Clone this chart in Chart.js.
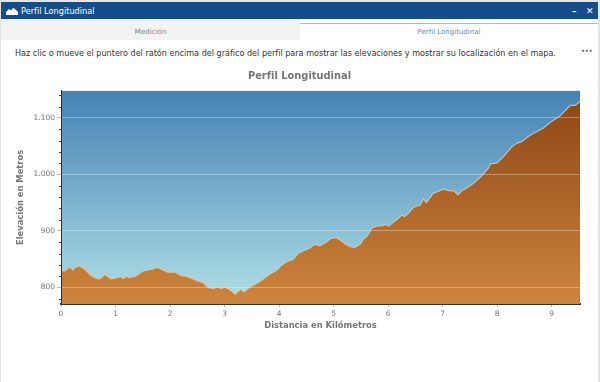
<!DOCTYPE html>
<html lang="es"><head><meta charset="utf-8">
<script src="https://cdn.jsdelivr.net/npm/chart.js@4"></script>
<style>
html,body{margin:0;padding:0;background:#fff;overflow:hidden}
#page{position:relative;width:600px;height:382px;background:#e4e4e4;font-family:"DejaVu Sans",sans-serif;overflow:hidden}
#win{position:absolute;left:1px;top:2px;width:597px;height:380px;background:#fff}
#bar{position:absolute;left:0;top:0;width:597px;height:17px;background:#154d88;color:#fff;font-size:8.2px;line-height:18px}
#bar span.t{position:absolute;left:20px;top:0;white-space:nowrap}
#bar svg{position:absolute;left:5px;top:3px}
#bar .m{position:absolute;left:571px;top:0;font-size:9px;font-weight:bold}
#bar .x{position:absolute;left:585px;top:0;font-size:9px;font-weight:bold}
#t1{position:absolute;left:0;top:17px;width:299px;height:21px;background:#f3f3f3;color:#888;font-size:7.2px;line-height:25px;text-align:center}
#t2{position:absolute;left:299px;top:21px;width:298px;height:17px;border-top:1px solid #8fc1e3;color:#4a90c4;font-size:7px;line-height:17px;text-align:center;background:#fff}
#msg{position:absolute;left:14px;top:46px;font-size:8.08px;color:#333;white-space:nowrap}
#dots{position:absolute;left:580px;top:45px;font-size:6px;color:#666;font-weight:bold;letter-spacing:0}
#grip{position:absolute;right:1px;bottom:1px;width:5px;height:5px;background:radial-gradient(#aaa 40%,transparent 45%) 0 0/2px 2px}
canvas{position:absolute;left:0;top:62px}
</style></head><body>
<div id="page"><div id="win">
<div id="bar"><svg width="12" height="11" viewBox="0 0 12 11"><path d="M0 10V7L3 4 5 5.500 7 3 9 4 12 7V10Z" fill="#fff"/></svg><span class="t">Perfil Longitudinal</span><span class="m">–</span><span class="x">✕</span></div>
<div id="t1">Medición</div><div id="t2">Perfil Longitudinal</div>
<div id="msg">Haz clic o mueve el puntero del ratón encima del gráfico del perfil para mostrar las elevaciones y mostrar su localización en el mapa.</div>
<div id="dots">•••</div><div id="grip"></div>
</div>
<canvas id="c" width="600" height="269"></canvas></div>
<script>
const distancias=[0,.06,.1,.16,.2,.22,.25,.33,.4,.47,.55,.6,.7,.75,.8,.85,.92,1,1.1,1.15,1.2,1.25,1.3,1.35,1.4,1.5,1.6,1.7,1.75,1.85,1.95,2,2.1,2.2,2.3,2.4,2.5,2.6,2.7,2.8,2.85,2.95,3,3.1,3.2,3.25,3.3,3.36,3.45,3.55,3.7,3.85,3.95,4.05,4.15,4.25,4.35,4.45,4.55,4.65,4.75,4.85,4.95,5.05,5.12,5.2,5.3,5.39,5.49,5.55,5.61,5.7,5.79,5.88,5.94,6.02,6.1,6.22,6.25,6.3,6.37,6.47,6.59,6.65,6.7,6.83,6.92,7,7.14,7.21,7.28,7.35,7.44,7.56,7.69,7.84,7.88,7.99,8.09,8.27,8.36,8.45,8.57,8.67,8.85,8.97,9.16,9.34,9.43,9.47,9.52];
const elevaciones=[830,829,832,836,833,831,835,838,835,829,821,818,815,818,823,820,815,817,819,816,820,817,819,819,822,829,831,833,836,832,827,827,827,821,820,816,812,809,800,798,801,798,801,796,788,793,797,792,800,805,814,825,830,840,846,849,860,865,869,876,874,879,887,888,884,878,872,871,877,886,890,905,909,909,911,909,916,925,929,925,931,942,946,957,950,967,970,974,971,971,964,971,976,984,995,1011,1019,1020,1029,1049,1055,1058,1067,1073,1082,1092,1104,1122,1122,1125,1129];
const xTicks=[0,1,2,3,4,5,6,7,8,9];
const yMajor=[800,900,1000,1100];
const yMinor=[780,820,840,860,880,920,940,960,980,1020,1040,1060,1080,1120,1140];
const yMin=770.8,yMax=1147.8,xMax=9.52;
const yLabel=v=>{const s=String(v);return s.length>3?s[0]+'.'+s.slice(1):s;};

const cieloYEjes={id:'cielo',
 beforeDatasetsDraw(ch){const a=ch.chartArea,c=ch.ctx,g=c.createLinearGradient(0,a.top,0,a.bottom);
  g.addColorStop(0,'#4682b4');g.addColorStop(1,'#b0e0e6');c.save();c.fillStyle=g;c.fillRect(a.left,a.top,a.right-a.left,a.bottom-a.top);c.restore();},
 afterDraw(ch){const s=ch.scales.y,c=ch.ctx,x=ch.chartArea.left;c.save();c.strokeStyle='#444';c.lineWidth=1;
  yMinor.forEach(v=>{const y=Math.round(s.getPixelForValue(v))+.5;c.beginPath();c.moveTo(x-2,y);c.lineTo(x,y);c.stroke();});c.restore();}};

new Chart(document.getElementById('c'),{type:'line',
 data:{datasets:[{data:distancias.map((d,i)=>({x:d,y:elevaciones[i]})),fill:'start',tension:0,pointRadius:0,
  borderWidth:1.2,borderColor:'rgba(225,200,170,.85)',
  backgroundColor(ctx){const a=ctx.chart.chartArea;if(!a)return '#a60';const g=ctx.chart.ctx.createLinearGradient(0,a.top,0,a.bottom);g.addColorStop(0,'#8b4513');g.addColorStop(1,'#cd853f');return g;}}]},
 plugins:[cieloYEjes],
 options:{responsive:false,animation:false,events:[],
  layout:{padding:{left:19,right:20,top:0,bottom:0}},
  plugins:{legend:{display:false},tooltip:{enabled:false},
   title:{display:true,text:'Perfil Longitudinal',color:'#777',font:{family:'"DejaVu Sans"',size:9.9,weight:'bold'},padding:{top:8,bottom:9}}},
  scales:{
   x:{type:'linear',min:0,max:xMax,
    afterBuildTicks(s){s.ticks=xTicks.map(v=>({value:v}));},
    afterFit(s){s.height=27;},
    grid:{display:true,drawOnChartArea:false,drawTicks:true,tickLength:3,tickColor:'#bbb'},
    border:{color:'#333',width:2},
    ticks:{color:'#777',font:{family:'"DejaVu Sans"',size:7.5},padding:3,maxRotation:0,autoSkip:false},
    title:{display:true,text:'Distancia en Kilómetros',color:'#777',font:{family:'"DejaVu Sans"',size:8.4,weight:'bold'},padding:{top:0,bottom:0}}},
   y:{min:yMin,max:yMax,
    afterBuildTicks(s){s.ticks=yMajor.map(v=>({value:v}));},
    afterFit(s){s.width=42;},
    grid:{z:1,color:'rgba(255,255,255,.33)',lineWidth:1,tickColor:'#bbb',tickLength:4},
    border:{z:1,color:'#333',width:1},
    ticks:{color:'#777',font:{family:'"DejaVu Sans"',size:7.5},padding:2,callback:v=>yLabel(v),autoSkip:false},
    title:{display:true,text:'Elevación en Metros',color:'#777',font:{family:'"DejaVu Sans"',size:8.4,weight:'bold'},padding:{top:-3,bottom:0}}}
  }}});
</script></body></html>
